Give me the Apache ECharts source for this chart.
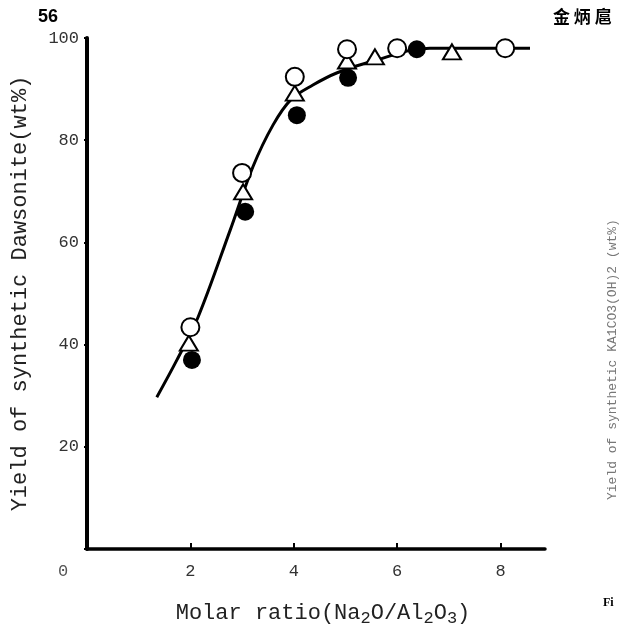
<!DOCTYPE html>
<html>
<head>
<meta charset="utf-8">
<script src="https://cdn.jsdelivr.net/npm/echarts@6/dist/echarts.min.js"></script>
<style>
  html, body { margin: 0; padding: 0; background: #fff; }
  #chart { width: 619px; height: 635px; }
</style>
</head>
<body>
<div id="chart"></div>
<script>
// values
var xTicks = [0, 2, 4, 6, 8];
var yTicks = [0, 20, 40, 60, 80, 100];

var openCircleX = [2.0, 3.0, 4.02, 5.03, 6.0, 8.09];
var openCircleY = [43.4, 73.6, 92.4, 97.8, 98.0, 98.0];

var triangleX = [1.97, 3.02, 4.02, 5.03, 5.57, 7.06];
var triangleY = [40.3, 69.9, 89.2, 95.5, 96.3, 97.3];

var filledX = [2.03, 3.06, 4.06, 5.05, 6.38];
var filledY = [37.0, 66.0, 84.9, 92.2, 97.8];

// hand-drawn fitted curve
var curveX = [1.35, 1.74, 2.15, 2.77, 3.21, 3.6, 3.95, 4.37, 4.84, 5.47, 6.63, 8.57];
var curveY = [29.7, 37.0, 45.4, 62.4, 74.8, 83.0, 88.0, 90.8, 93.2, 95.3, 98.0, 98.0];

function pairs(xs, ys) {
    return xs.map(function (x, i) { return [x, ys[i]]; });
}

var mono = '"Liberation Mono", "DejaVu Sans Mono", monospace';

const chart = echarts.init(document.getElementById('chart'));

const options = {
    animation: false,
    backgroundColor: '#ffffff',
    grid: { left: 87, right: 74, top: 38, bottom: 86, outerBoundsMode: 'none', containLabel: false },
    xAxis: {
        type: 'value',
        min: 0,
        max: 8.86,
        interval: 2,
        splitLine: { show: false },
        axisLine: { lineStyle: { color: '#000', width: 3.5 } },
        axisTick: { inside: true, length: 6, lineStyle: { color: '#000', width: 2 } },
        axisLabel: {
            showMaxLabel: false,
            margin: 14,
            color: '#333',
            fontFamily: mono,
            fontSize: 17,
            formatter: function (v) { return xTicks.indexOf(v) > 0 ? String(v) : ''; }
        },
        name: '{m|Molar ratio(Na}{s|2}{m|O/Al}{s|2}{m|O}{s|3}{m|)}',
        nameLocation: 'middle',
        nameGap: 53,
        nameTextStyle: {
            padding: [0, 0, 0, 14],
            rich: {
                m: { fontFamily: mono, fontSize: 22, color: '#222', verticalAlign: 'top', lineHeight: 20 },
                s: { fontFamily: mono, fontSize: 17, color: '#222', verticalAlign: 'bottom', lineHeight: 25 }
            }
        }
    },
    yAxis: {
        type: 'value',
        min: 0,
        max: 100,
        interval: 20,
        splitLine: { show: false },
        axisLine: { lineStyle: { color: '#000', width: 4 } },
        axisTick: { length: 3, lineStyle: { color: '#000', width: 2 } },
        axisLabel: {
            margin: 8,
            color: '#333',
            fontFamily: mono,
            fontSize: 17,
            formatter: function (v) { return v === 0 ? '' : String(v); }
        },
        name: 'Yield of synthetic Dawsonite(wt%)',
        nameLocation: 'middle',
        nameGap: 56,
        nameTextStyle: { fontFamily: mono, fontSize: 22, color: '#222' }
    },
    series: [
        {
            type: 'line',
            data: pairs(curveX, curveY),
            smooth: 0.35,
            showSymbol: false,
            lineStyle: { color: '#000', width: 3 },
            z: 1
        },
        {
            type: 'scatter',
            data: pairs(filledX, filledY),
            symbol: 'circle',
            symbolSize: 18,
            itemStyle: { color: '#000', opacity: 1 },
            z: 2
        },
        {
            type: 'scatter',
            data: pairs(triangleX, triangleY),
            symbol: 'triangle',
            symbolSize: [18, 15],
            itemStyle: { color: '#fff', borderColor: '#000', borderWidth: 2, opacity: 1 },
            z: 3
        },
        {
            type: 'scatter',
            data: pairs(openCircleX, openCircleY),
            symbol: 'circle',
            symbolSize: 18,
            itemStyle: { color: '#fff', borderColor: '#000', borderWidth: 2, opacity: 1 },
            z: 4
        }
    ],
    graphic: [
        { type: 'text', left: 38, top: 8, style: { text: '56', font: 'bold 18px "Liberation Sans", Arial, sans-serif', fill: '#000' } },
        { type: 'text', left: 553, top: 8, style: { text: '金 炳 扈', font: 'bold 17px "Noto Sans CJK SC", sans-serif', fill: '#000' } },
        { type: 'text', left: 58, top: 563, style: { text: '0', font: '17px ' + mono, fill: '#555' } },
        { type: 'text', left: 603, top: 597, style: { text: 'Fi', font: 'bold 12px "Liberation Serif", serif', fill: '#000' } },
        {
            type: 'text', x: 606, y: 500, rotation: Math.PI / 2,
            style: { text: 'Yield of synthetic KA1CO3(OH)2 (wt%)', font: '13px ' + mono, fill: '#777' }
        }
    ]
};

chart.setOption(options);
</script>
</body>
</html>
